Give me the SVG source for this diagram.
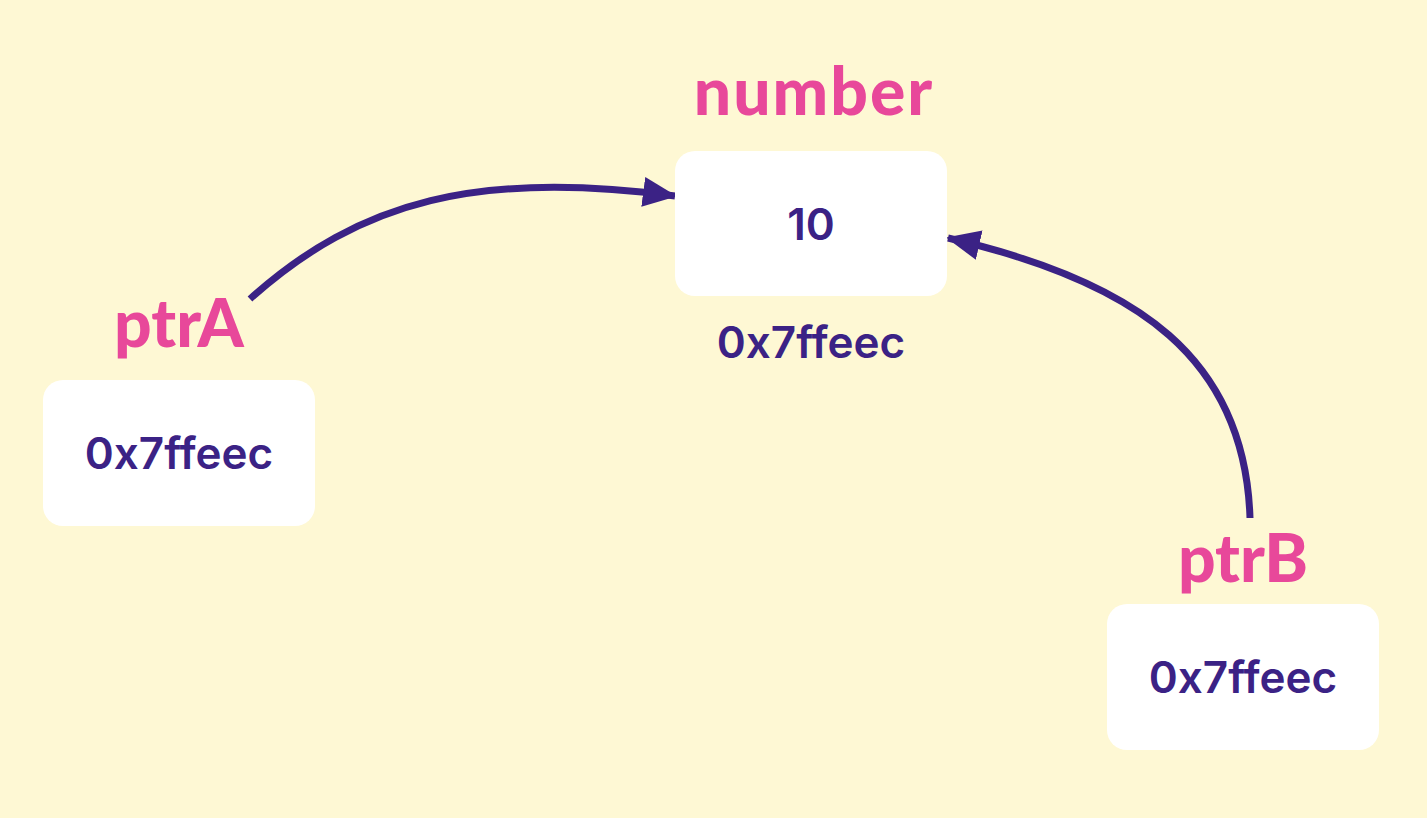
<svg xmlns="http://www.w3.org/2000/svg" width="1427" height="818" viewBox="0 0 1427 818">
<defs>
<style>
.box{fill:#ffffff}
.lbl{font-family:Lato,"Open Sans",sans-serif;font-weight:900;fill:#E8489A;text-anchor:middle;font-size:66px}
.val{font-family:Inter,"Open Sans",sans-serif;font-weight:600;fill:#3B2285;text-anchor:middle;font-size:44px}
.conn{fill:none;stroke:#3B2285;stroke-width:7}
</style>
<marker id="ah" markerUnits="userSpaceOnUse" markerWidth="34" markerHeight="34" viewBox="0 0 34 34" refX="32" refY="17" orient="auto">
<path d="M0,2 L34,17 L0,32 z" fill="#3B2285"/>
</marker>
</defs>
<rect width="1427" height="818" fill="#FEF8D4"/>
<g id="connectors">
<path class="conn" d="M250,299 C360,200 480,170 675,196" marker-end="url(#ah)"/>
<path class="conn" d="M1250,518 C1245,360 1140,282 948,238" marker-end="url(#ah)"/>
</g>
<g id="number">
<text class="lbl" x="814" y="115" letter-spacing="2">number</text>
<rect class="box" x="675" y="151" width="272" height="145" rx="20"/>
<text class="val" x="811" y="240">10</text>
<text class="val" x="811" y="358">0x7ffeec</text>
</g>
<g id="ptrA">
<text class="lbl" x="179" y="347">ptrA</text>
<rect class="box" x="43" y="380" width="272" height="146" rx="20"/>
<text class="val" x="179" y="469">0x7ffeec</text>
</g>
<g id="ptrB">
<text class="lbl" x="1243" y="582">ptrB</text>
<rect class="box" x="1107" y="604" width="272" height="146" rx="20"/>
<text class="val" x="1243" y="693">0x7ffeec</text>
</g>
</svg>
